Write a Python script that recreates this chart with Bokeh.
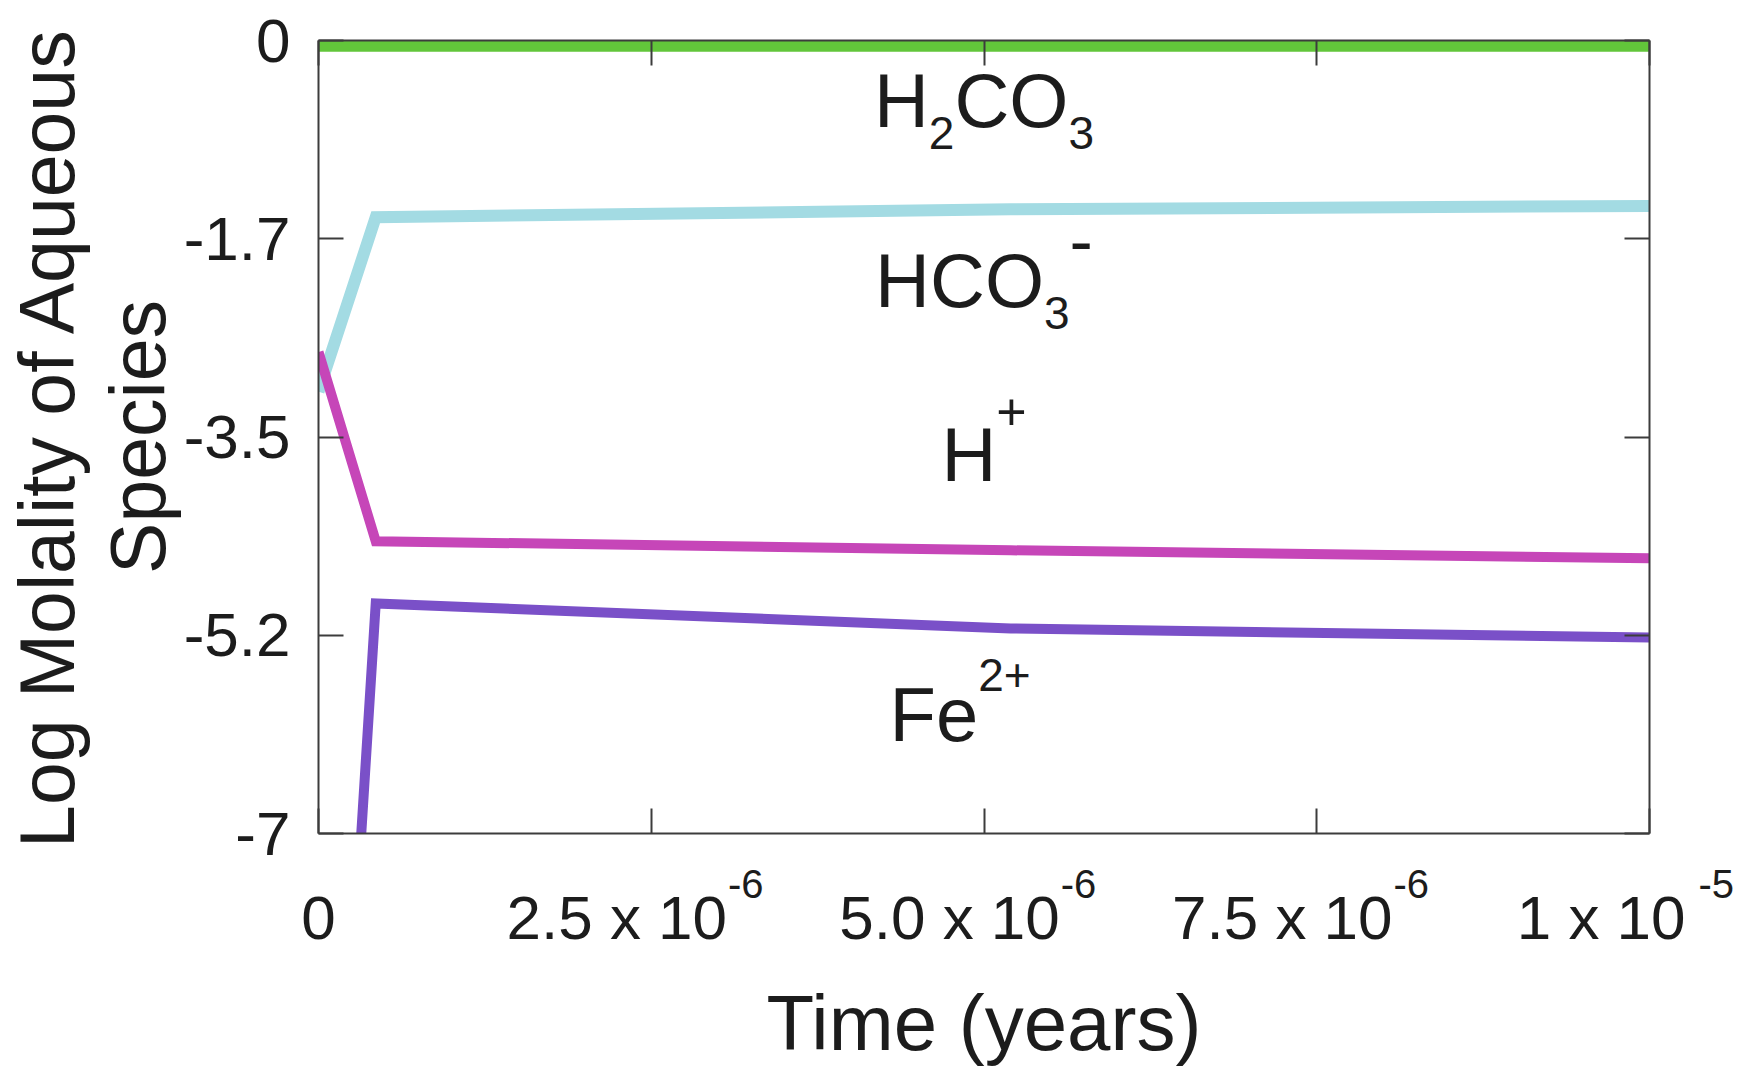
from bokeh.plotting import figure
from bokeh.models import Range1d, FixedTicker, LinearAxis, Label
from bokeh.embed import file_html
from bokeh.resources import INLINE

# ---- data: log molality of aqueous species vs. time ----
time_yr = [0.0, 4.3e-7, 5.2e-6, 1.0e-5]
log_h2co3 = [-0.05, -0.05, -0.05, -0.05]
log_hco3 = [-3.10, -1.56, -1.49, -1.46]
log_hplus = [-2.75, -4.42, -4.50, -4.57]
log_fe = [-13.0, -4.97, -5.19, -5.27]

series_values = [log_h2co3, log_hco3, log_hplus, log_fe]
series_colors = ["#62c63a", "#a3dbe3", "#c646b8", "#7a50c8"]
series_widths = [11, 12, 10, 10]

# species names: (text, kind, font px) pieces, kind n = normal, sub, sup
species_names = [
    [("H", "n", 76), ("2", "sub", 46), ("CO", "n", 76), ("3", "sub", 46)],
    [("HCO", "n", 76), ("3", "sub", 46), ("-", "sup", 70)],
    [("H", "n", 76), ("+", "sup", 52)],
    [("Fe", "n", 76), ("2+", "sup", 46)],
]
species_label_x = [5.0e-6, 5.0e-6, 5.0e-6, 4.82e-6]
species_label_y = [-0.78, -2.37, -3.90, -6.20]

# axis ticks
x_ticks = [0.0, 2.5e-6, 5.0e-6, 7.5e-6, 1.0e-5]
x_tick_mantissa = ["0", "2.5 x 10", "5.0 x 10", "7.5 x 10", "1 x 10"]
x_tick_exponent = ["", "-6", "-6", "-6", "-5"]
y_ticks = [0.0, -1.75, -3.5, -5.25, -7.0]
y_tick_labels = ["0", "-1.7", "-3.5", "-5.2", "-7"]

FONT = "Liberation Sans"
TEXT = "#1c1c1c"
FRAME = "#3c3c3c"
TICK_PX = 62
EXP_PX = 40
NBSP = "\u00a0"

# advance widths (per 1000 em) for Arial-metric fonts
ADV = {c: 556 for c in "0123456789"}
ADV.update({".": 278, " ": 278, NBSP: 278, "x": 500, "-": 333, "+": 584,
            "H": 722, "C": 722, "O": 778, "F": 611, "e": 556})


def text_w(s, px):
    return sum(ADV[c] for c in s) / 1000.0 * px


p = figure(width=1754, height=1071,
           x_range=Range1d(0, 1.0e-5), y_range=Range1d(-7, 0),
           output_backend="svg", toolbar_location=None,
           min_border_left=318, min_border_right=105,
           min_border_top=40, min_border_bottom=238)
p.background_fill_color = "white"
p.border_fill_color = "white"
p.outline_line_color = None
p.grid.visible = False

for vals, col, lw in zip(series_values, series_colors, series_widths):
    p.line(time_yr, vals, line_color=col, line_width=lw, line_join="miter")


def style_axis(ax, ticks, frame_line=True):
    ax.ticker = FixedTicker(ticks=ticks)
    ax.axis_line_color = FRAME if frame_line else None
    ax.axis_line_width = 2
    ax.major_tick_line_color = FRAME if frame_line else None
    ax.major_tick_line_width = 2
    ax.major_tick_in = 25 if frame_line else 0
    ax.major_tick_out = 0
    ax.minor_tick_line_color = None
    ax.major_label_text_font = FONT
    ax.major_label_text_color = TEXT


# ---- bottom: frame edge with exponents, then mantissas + title ----
pad_main = NBSP * 4
main_overrides, exp_overrides = {}, {}
for t, m, e in zip(x_ticks, x_tick_mantissa, x_tick_exponent):
    if not e:
        main_overrides[t] = m
        exp_overrides[t] = ""
        continue
    main_overrides[t] = m + pad_main
    wb = text_w(m, TICK_PX)
    wp = text_w(pad_main, TICK_PX)
    start = (wb - wp) / 2.0 + 1          # just after the mantissa
    we = text_w(e, EXP_PX)
    wn = text_w(NBSP, EXP_PX)
    k = max(0, round((2 * start + we) / wn))
    exp_overrides[t] = NBSP * k + e

exp_axis = LinearAxis()
style_axis(exp_axis, x_ticks)
exp_axis.major_label_overrides = exp_overrides
exp_axis.major_label_text_font_size = f"{EXP_PX}px"
exp_axis.major_label_standoff = 28

xa = p.xaxis[0]
style_axis(xa, x_ticks, frame_line=False)
xa.major_label_overrides = main_overrides
xa.major_label_text_font_size = f"{TICK_PX}px"
xa.major_label_standoff = -26
xa.axis_label = "Time (years)"
xa.axis_label_text_font = FONT
xa.axis_label_text_font_size = "78px"
xa.axis_label_text_font_style = "normal"
xa.axis_label_text_color = TEXT
xa.axis_label_standoff = 24

p.below = [exp_axis, xa]

# ---- left axis with two-line title ----
ya = p.yaxis[0]
style_axis(ya, y_ticks)
ya.major_label_overrides = dict(zip(y_ticks, y_tick_labels))
ya.major_label_text_font_size = f"{TICK_PX}px"
ya.major_label_standoff = 28
ya.axis_label = "Log Molality of Aqueous\nSpecies"
ya.axis_label_text_font = FONT
ya.axis_label_text_font_size = "77px"
ya.axis_label_text_font_style = "normal"
ya.axis_label_text_color = TEXT
ya.axis_label_text_line_height = 1.05
ya.axis_label_standoff = 0

# ---- mirrored ticks on top and right (no labels) ----
top = LinearAxis()
style_axis(top, x_ticks)
top.major_label_overrides = {t: "" for t in x_ticks}
top.major_label_text_font_size = "8px"
top.major_label_standoff = 0
p.add_layout(top, "above")

right = LinearAxis()
style_axis(right, y_ticks)
right.major_label_overrides = {t: "" for t in y_ticks}
right.major_label_text_font_size = "8px"
right.major_label_standoff = 0
p.add_layout(right, "right")

# ---- species names with sub/superscripts ----
# Label anchors its text about 0.37 em below the requested baseline,
# so each piece is lifted by that amount.
for pieces, lx, ly in zip(species_names, species_label_x, species_label_y):
    total = sum(text_w(s, sz) for s, _, sz in pieces)
    cursor = -total / 2.0
    for s, k, sz in pieces:
        dy = {"n": 0, "sub": -21, "sup": 51}[k]
        if s == "-":
            dy = 43
        p.add_layout(Label(x=lx, y=ly, x_offset=cursor,
                           y_offset=dy + 0.37 * sz, text=s,
                           text_font=FONT, text_font_size=f"{sz}px",
                           text_color=TEXT, text_align="left",
                           text_baseline="alphabetic"))
        cursor += text_w(s, sz)

open("out.html", "w").write(file_html(p, INLINE))
